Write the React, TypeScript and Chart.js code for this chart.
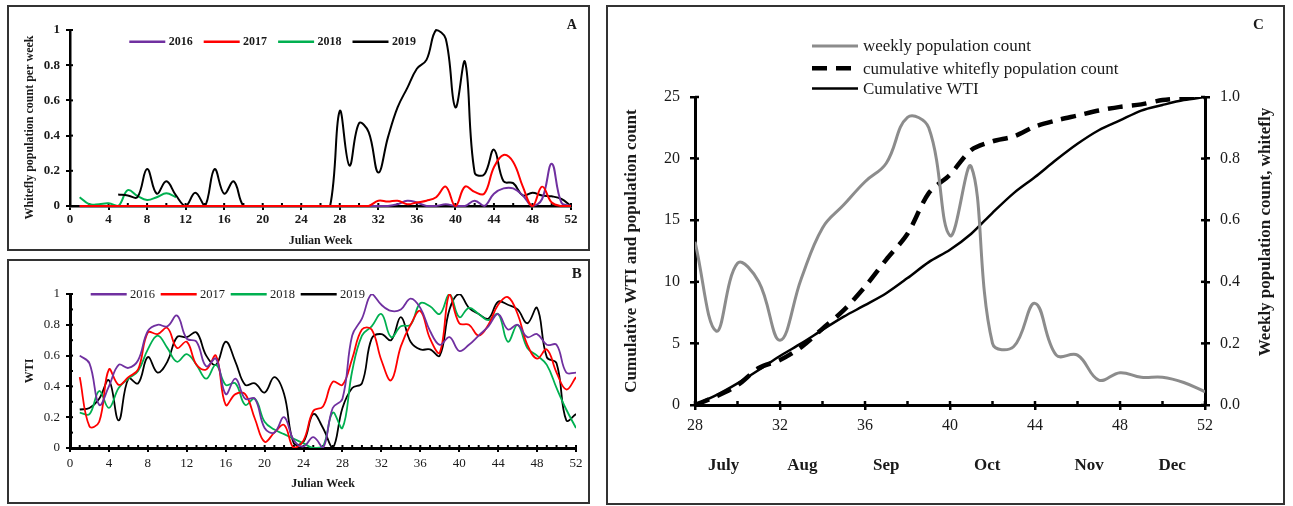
import React, { useEffect, useRef } from 'react';
import { Chart, registerables } from 'chart.js';

Chart.register(...registerables);

const SERIF = '"Liberation Serif", "Times New Roman", Times, serif';
const TEXT = '#1a1a1a';

// ---------- shared ----------
const yearLabels = ['2016', '2017', '2018', '2019'];
const yearColors = ['#7030A0', '#FF0000', '#00B050', '#000000'];

// ---------- Panel A: whitefly population count per week ----------
const popStart2016 = 1;
const pop2016 = [0, 0, 0, 0, 0, 0, 0, 0, 0, 0, 0, 0, 0, 0, 0, 0, 0, 0, 0, 0, 0, 0, 0, 0, 0, 0, 0, 0, 0, 0, 0, 0, 0,
  0.01, 0.03, 0.02, 0, 0, 0.01, 0, 0, 0.03, 0, 0.07, 0.1, 0.1, 0.06, 0, 0.04, 0.24, 0.02, 0];
const popStart2017 = 1;
const pop2017 = [0, 0, 0, 0, 0, 0, 0, 0, 0, 0, 0, 0, 0, 0, 0, 0, 0, 0, 0, 0, 0, 0, 0, 0, 0, 0, 0, 0, 0, 0, 0,
  0.03, 0.025, 0.03, 0.01, 0.02, 0.03, 0.05, 0.11, 0, 0.11, 0.08, 0.07, 0.22, 0.29, 0.25, 0.11, 0, 0.11, 0.02, 0, 0];
const popStart2018 = 1;
const pop2018 = [0.05, 0.01, 0.01, 0.015, 0, 0.09, 0.057, 0.034, 0.05, 0.072, 0.05];
const popStart2019 = 5;
const pop2019 = [0.065, 0.06, 0.05, 0.21, 0.07, 0.14, 0.06, 0, 0.075, 0, 0.21, 0.07, 0.14, 0, 0, 0, 0, 0, 0, 0, 0, 0, 0,
  0.54, 0.23, 0.47, 0.42, 0.19, 0.39, 0.56, 0.67, 0.78, 0.83, 1.0, 0.95, 0.56, 0.82, 0.19, 0.18, 0.32, 0.14, 0.13,
  0.06, 0.075, 0.06, 0.055, 0.04, 0];

// ---------- Panel B: WTI ----------
const wtiStart = 1;
const wti2016 = [0.60, 0.55, 0.28, 0.40, 0.54, 0.52, 0.57, 0.76, 0.80, 0.79, 0.86, 0.71, 0.69, 0.53, 0.58, 0.35, 0.45,
  0.32, 0.32, 0.13, 0.10, 0.20, 0.05, 0.01, 0.07, 0.0, 0.26, 0.32, 0.73, 0.84, 1.0, 0.93, 0.89, 0.90, 0.97, 0.91, 0.76,
  0.67, 0.72, 0.63, 0.67, 0.73, 0.79, 0.87, 0.77, 0.80, 0.72, 0.74, 0.67, 0.67, 0.49, 0.49];
const wti2017 = [0.46, 0.14, 0.17, 0.51, 0.41, 0.46, 0.51, 0.75, 0.74, 0.78, 0.65, 0.69, 0.54, 0.51, 0.60, 0.28, 0.35,
  0.35, 0.19, 0.04, 0.10, 0.15, 0.0, 0.05, 0.24, 0.27, 0.43, 0.41, 0.58, 0.77, 0.77, 0.57, 0.44, 0.66, 0.80, 0.89, 0.71,
  0.62, 1.0, 0.81, 0.80, 0.73, 0.80, 0.93, 0.98, 0.87, 0.67, 0.58, 0.64, 0.49, 0.38, 0.46];
const wti2018 = [0.23, 0.22, 0.37, 0.26, 0.39, 0.45, 0.50, 0.64, 0.73, 0.65, 0.56, 0.61, 0.54, 0.45, 0.54, 0.41, 0.42,
  0.28, 0.32, 0.17, 0.12, 0.09, 0.06, 0.03, 0.0, 0.01, 0.23, 0.13, 0.50, 0.73, 0.79, 0.87, 0.72, 0.79, 0.80, 0.94, 0.92,
  0.87, 1.0, 0.85, 0.91, 0.87, 0.83, 0.87, 0.69, 0.80, 0.65, 0.60, 0.54, 0.39, 0.25, 0.13];
const wti2019 = [0.25, 0.26, 0.32, 0.44, 0.18, 0.45, 0.42, 0.59, 0.49, 0.56, 0.72, 0.72, 0.75, 0.60, 0.54, 0.69, 0.56,
  0.41, 0.42, 0.36, 0.46, 0.35, 0.03, 0.04, 0.22, 0.13, 0.0, 0.26, 0.39, 0.42, 0.71, 0.74, 0.70, 0.85, 0.69, 0.64, 0.64,
  0.60, 0.90, 1.0, 0.91, 0.87, 0.84, 0.95, 0.93, 0.90, 0.81, 0.91, 0.59, 0.55, 0.18, 0.22];

// ---------- Panel C: cumulative (weeks 28-52) ----------
const cStart = 28;
const weeklyPopulation = [0.53, 0.24, 0.46, 0.40, 0.21, 0.41, 0.575, 0.65, 0.725, 0.785, 0.934, 0.90, 0.55, 0.774,
  0.20, 0.19, 0.33, 0.162, 0.162, 0.081, 0.105, 0.09, 0.09, 0.073, 0.043];
const cumulativeWhitefly = [0, 0.7, 1.6, 3.0, 3.65, 4.7, 6.2, 7.7, 9.6, 11.8, 13.9, 17.2, 18.7, 20.7, 21.4, 21.8, 22.6,
  23.1, 23.5, 23.9, 24.2, 24.4, 24.75, 24.9, 25.0];
const cumulativeWTI = [0, 0.8, 1.76, 2.84, 3.98, 5.0, 6.1, 7.17, 8.1, 9.07, 10.3, 11.6, 12.6, 13.9, 15.6, 17.2, 18.5,
  19.9, 21.2, 22.3, 23.1, 23.9, 24.35, 24.75, 25.0];
const cSeriesLabels = ['weekly population count', 'cumulative whitefly population count', 'Cumulative WTI'];
const monthLabels = ['July', 'Aug', 'Sep', 'Oct', 'Nov', 'Dec'];
const monthWeeks = [29.35, 33.05, 37.0, 41.75, 46.55, 50.45];

// ---------- helpers ----------
const toPoints = (start: number, values: number[]) => values.map((y, i) => ({ x: start + i, y }));
const font = (size: number, bold = false) => ({ family: SERIF, size, weight: bold ? 'bold' : 'normal' });
const cssFont = (size: number, bold = false) => `${bold ? 'bold ' : ''}${size}px ${SERIF}`;

const isMult4 = (v: number) => Math.round(v) % 4 === 0;
const isEvenTenth = (v: number) => Math.round(v * 10) % 2 === 0;

type TextItem = { text: string; x: number; y: number; size: number; bold?: boolean; rotate?: number; align?: CanvasTextAlign };

const textPlugin = (items: TextItem[]) => ({
  id: 'texts',
  afterDraw(chart: any) {
    const ctx = chart.ctx;
    items.forEach((it) => {
      ctx.save();
      ctx.translate(it.x, it.y);
      if (it.rotate) ctx.rotate(it.rotate);
      ctx.font = cssFont(it.size, it.bold);
      ctx.fillStyle = TEXT;
      ctx.textAlign = it.align || 'center';
      ctx.textBaseline = 'middle';
      ctx.fillText(it.text, 0, 0);
      ctx.restore();
    });
  },
});

// inward tick marks (the reference's ticks cross the axis line)
const innerTicksPlugin = (cfg: { len: number; lw: number }) => ({
  id: 'innerTicks',
  beforeDatasetsDraw(chart: any) {
    const ctx = chart.ctx;
    ctx.save();
    ctx.strokeStyle = '#000';
    ctx.lineWidth = cfg.lw;
    Object.values(chart.scales).forEach((s: any) => {
      s.ticks.forEach((t: any) => {
        const p = s.getPixelForValue(t.value);
        ctx.beginPath();
        if (s.position === 'bottom') { ctx.moveTo(p, s.top); ctx.lineTo(p, s.top - cfg.len); }
        else if (s.position === 'left') { ctx.moveTo(s.right, p); ctx.lineTo(s.right + cfg.len, p); }
        else if (s.position === 'right') { ctx.moveTo(s.left, p); ctx.lineTo(s.left - cfg.len, p); }
        ctx.stroke();
      });
    });
    ctx.restore();
  },
});

const rowLegendPlugin = (cfg: { x: number; y: number; len: number; gap: number; itemGap: number; size: number; bold: boolean; lw: number }) => ({
  id: 'rowLegend',
  afterDraw(chart: any) {
    const ctx = chart.ctx;
    ctx.save();
    ctx.font = cssFont(cfg.size, cfg.bold);
    ctx.textBaseline = 'middle';
    ctx.textAlign = 'left';
    let x = cfg.x;
    chart.data.datasets.forEach((ds: any) => {
      ctx.strokeStyle = ds.borderColor;
      ctx.lineWidth = cfg.lw;
      ctx.beginPath();
      ctx.moveTo(x, cfg.y);
      ctx.lineTo(x + cfg.len, cfg.y);
      ctx.stroke();
      const tx = x + cfg.len + cfg.gap;
      ctx.fillStyle = TEXT;
      ctx.fillText(ds.label, tx, cfg.y + 0.5);
      x = tx + ctx.measureText(ds.label).width + cfg.itemGap;
    });
    ctx.restore();
  },
});

const colLegendPlugin = {
  id: 'colLegend',
  afterDraw(chart: any) {
    const ctx = chart.ctx;
    ctx.save();
    ctx.font = cssFont(17);
    ctx.textBaseline = 'middle';
    ctx.textAlign = 'left';
    const rows = [38, 60.3, 80.5];
    chart.data.datasets.forEach((ds: any, i: number) => {
      const y = rows[i];
      ctx.strokeStyle = ds.borderColor;
      ctx.lineWidth = ds.borderWidth;
      ctx.setLineDash(ds.borderDash || []);
      ctx.beginPath();
      ctx.moveTo(203, y);
      ctx.lineTo(249, y);
      ctx.stroke();
      ctx.setLineDash([]);
      ctx.fillStyle = TEXT;
      ctx.fillText(ds.label, 254, y + 1);
    });
    ctx.restore();
  },
};

const monthPlugin = {
  id: 'months',
  afterDraw(chart: any) {
    const ctx = chart.ctx;
    const xs = chart.scales.x;
    ctx.save();
    ctx.font = cssFont(17, true);
    ctx.fillStyle = TEXT;
    ctx.textAlign = 'center';
    ctx.textBaseline = 'middle';
    monthLabels.forEach((m, i) => ctx.fillText(m, xs.getPixelForValue(monthWeeks[i]), 458));
    ctx.restore();
  },
};

// outward ticks only for the major (labelled) positions
const axisGrid = (len: number, lw: number, isMajor: (v: number) => boolean) => ({
  display: true,
  drawOnChartArea: false,
  drawTicks: true,
  tickLength: len,
  color: (ctx: any) => (ctx.tick && isMajor(ctx.tick.value) ? '#000' : 'rgba(0,0,0,0)'),
  lineWidth: lw,
});

function ChartCanvas({ left, top, width, height, make }: { left: number; top: number; width: number; height: number; make: () => any }) {
  const ref = useRef<HTMLCanvasElement>(null);
  useEffect(() => {
    const chart = new Chart(ref.current as HTMLCanvasElement, make());
    return () => chart.destroy();
  }, []);
  return (
    <canvas
      ref={ref}
      width={width}
      height={height}
      style={{ position: 'absolute', left, top, width, height }}
    />
  );
}

// ---------- chart configs ----------
const makeA = () => ({
  type: 'line',
  data: {
    datasets: [
      { label: yearLabels[0], data: toPoints(popStart2016, pop2016), borderColor: yearColors[0], order: 1 },
      { label: yearLabels[1], data: toPoints(popStart2017, pop2017), borderColor: yearColors[1], order: 0 },
      { label: yearLabels[2], data: toPoints(popStart2018, pop2018), borderColor: yearColors[2], order: 3 },
      { label: yearLabels[3], data: toPoints(popStart2019, pop2019), borderColor: yearColors[3], order: 2 },
    ].map((d) => ({ ...d, borderWidth: 2, pointRadius: 0, tension: 0.4, fill: false, clip: 3 })),
  },
  options: {
    responsive: false,
    animation: false,
    layout: { padding: { left: 0, top: 22, right: 16, bottom: 0 } },
    plugins: { legend: { display: false }, tooltip: { enabled: false } },
    scales: {
      x: {
        type: 'linear', min: 0, max: 52,
        ticks: {
          stepSize: 2, maxTicksLimit: 100, autoSkip: false, maxRotation: 0, padding: 2,
          font: font(13, true), color: TEXT,
          callback: (v: number) => (isMult4(v) ? String(v) : ''),
        },
        grid: axisGrid(4, 2, isMult4),
        border: { display: true, color: '#000', width: 2.5 },
        title: { display: true, text: 'Julian Week', font: font(12, true), color: TEXT, padding: { top: 0, bottom: 0 } },
        afterFit: (s: any) => { s.height = 42; },
      },
      y: {
        type: 'linear', min: 0, max: 1,
        ticks: {
          stepSize: 0.2, padding: 6, font: font(13, true), color: TEXT,
          callback: (v: number) => String(+v.toFixed(1)),
        },
        grid: axisGrid(4, 2, () => true),
        border: { display: true, color: '#000', width: 2.5 },
        afterFit: (s: any) => { s.width = 60; },
      },
    },
  },
  plugins: [
    innerTicksPlugin({ len: 3, lw: 2 }),
    rowLegendPlugin({ x: 119.3, y: 33.7, len: 36, gap: 3.4, itemGap: 11, size: 12, bold: true, lw: 2.5 }),
    textPlugin([
      { text: 'Whitefly population count per week', x: 19.5, y: 119.5, size: 12, bold: true, rotate: -Math.PI / 2 },
      { text: 'A', x: 561.7, y: 17, size: 14, bold: true },
    ]),
  ],
});

const makeB = () => ({
  type: 'line',
  data: {
    datasets: [
      { label: yearLabels[0], data: toPoints(wtiStart, wti2016), borderColor: yearColors[0] },
      { label: yearLabels[1], data: toPoints(wtiStart, wti2017), borderColor: yearColors[1] },
      { label: yearLabels[2], data: toPoints(wtiStart, wti2018), borderColor: yearColors[2] },
      { label: yearLabels[3], data: toPoints(wtiStart, wti2019), borderColor: yearColors[3] },
    ].map((d) => ({ ...d, borderWidth: 1.8, pointRadius: 0, tension: 0.4, fill: false })),
  },
  options: {
    responsive: false,
    animation: false,
    layout: { padding: { left: 0, top: 32, right: 11, bottom: 0 } },
    plugins: { legend: { display: false }, tooltip: { enabled: false } },
    scales: {
      x: {
        type: 'linear', min: 0, max: 52,
        ticks: {
          stepSize: 1, maxTicksLimit: 100, autoSkip: false, maxRotation: 0, padding: 4,
          font: font(13), color: TEXT,
          callback: (v: number) => (isMult4(v) ? String(v) : ''),
        },
        grid: axisGrid(4, 2, isMult4),
        border: { display: true, color: '#000', width: 3 },
        title: { display: true, text: 'Julian Week', font: font(12, true), color: TEXT, padding: { top: 0, bottom: 9.5 } },
        afterFit: (s: any) => { s.height = 53; },
      },
      y: {
        type: 'linear', min: 0, max: 1,
        ticks: {
          stepSize: 0.1, maxTicksLimit: 100, autoSkip: false, padding: 6, font: font(13), color: TEXT,
          callback: (v: number) => (isEvenTenth(v) ? String(Math.round(v * 10) / 10) : ''),
        },
        grid: axisGrid(4, 2, isEvenTenth),
        border: { display: true, color: '#000', width: 3 },
        title: { display: true, text: 'WTI', font: font(12, true), color: TEXT, padding: { top: 12.8, bottom: 0 } },
        afterFit: (s: any) => { s.width = 60; },
      },
    },
  },
  plugins: [
    innerTicksPlugin({ len: 3, lw: 2 }),
    rowLegendPlugin({ x: 80.7, y: 32.3, len: 36, gap: 3.3, itemGap: 5.7, size: 12.5, bold: false, lw: 2.5 }),
    textPlugin([{ text: 'B', x: 566.7, y: 12, size: 15, bold: true }]),
  ],
});

const makeC = () => ({
  type: 'line',
  data: {
    datasets: [
      { label: cSeriesLabels[0], data: toPoints(cStart, weeklyPopulation), yAxisID: 'y1', borderColor: '#8c8c8c', borderWidth: 3, tension: 0.4 },
      { label: cSeriesLabels[1], data: toPoints(cStart, cumulativeWhitefly), yAxisID: 'y', borderColor: '#000', borderWidth: 4.5, borderDash: [15, 9], tension: 0.3 },
      { label: cSeriesLabels[2], data: toPoints(cStart, cumulativeWTI), yAxisID: 'y', borderColor: '#000', borderWidth: 2.5, tension: 0.3 },
    ].map((d) => ({ ...d, pointRadius: 0, fill: false })),
  },
  options: {
    responsive: false,
    animation: false,
    layout: { padding: { left: 0, top: 89, right: 0, bottom: 0 } },
    plugins: { legend: { display: false }, tooltip: { enabled: false } },
    scales: {
      x: {
        type: 'linear', min: 28, max: 52,
        ticks: {
          stepSize: 2, maxTicksLimit: 100, autoSkip: false, maxRotation: 0, padding: 6,
          font: font(16), color: TEXT,
          callback: (v: number) => (isMult4(v) ? String(v) : ''),
        },
        grid: axisGrid(5, 2.5, isMult4),
        border: { display: true, color: '#000', width: 3 },
        afterFit: (s: any) => { s.height = 97; },
      },
      y: {
        type: 'linear', position: 'left', min: 0, max: 25,
        ticks: { stepSize: 5, padding: 10, font: font(16), color: TEXT },
        grid: axisGrid(5, 2.5, () => true),
        border: { display: true, color: '#000', width: 3 },
        title: { display: true, text: 'Cumulative WTI and population count', font: font(17, true), color: TEXT, padding: { top: 12.8, bottom: 0 } },
        afterFit: (s: any) => { s.width = 86; },
      },
      y1: {
        type: 'linear', position: 'right', min: 0, max: 1,
        ticks: { stepSize: 0.2, padding: 10, font: font(16), color: TEXT, callback: (v: number) => v.toFixed(1) },
        grid: axisGrid(5, 2.5, () => true),
        border: { display: true, color: '#000', width: 3 },
        afterFit: (s: any) => { s.width = 77; },
      },
    },
  },
  plugins: [
    innerTicksPlugin({ len: 4, lw: 2.5 }),
    colLegendPlugin,
    monthPlugin,
    textPlugin([
      { text: 'Weekly population count, whitefly', x: 657, y: 224, size: 17, bold: true, rotate: -Math.PI / 2 },
      { text: 'C', x: 649.3, y: 17, size: 15, bold: true },
    ]),
  ],
});

const boxStyle = (left: number, top: number, width: number, height: number): React.CSSProperties => ({
  position: 'absolute', left, top, width, height, boxSizing: 'border-box', border: '2px solid #333', background: '#fff',
});

export default function App() {
  return (
    <div style={{ position: 'absolute', left: 0, top: 0, width: 1293, height: 506, background: '#fff', overflow: 'hidden' }}>
      <div style={boxStyle(7, 5, 583, 246)} />
      <div style={boxStyle(7, 259, 583, 245)} />
      <div style={boxStyle(606, 5, 679, 500)} />
      <ChartCanvas left={10} top={8} width={577} height={240} make={makeA} />
      <ChartCanvas left={10} top={262} width={577} height={239} make={makeB} />
      <ChartCanvas left={609} top={8} width={673} height={494} make={makeC} />
    </div>
  );
}
